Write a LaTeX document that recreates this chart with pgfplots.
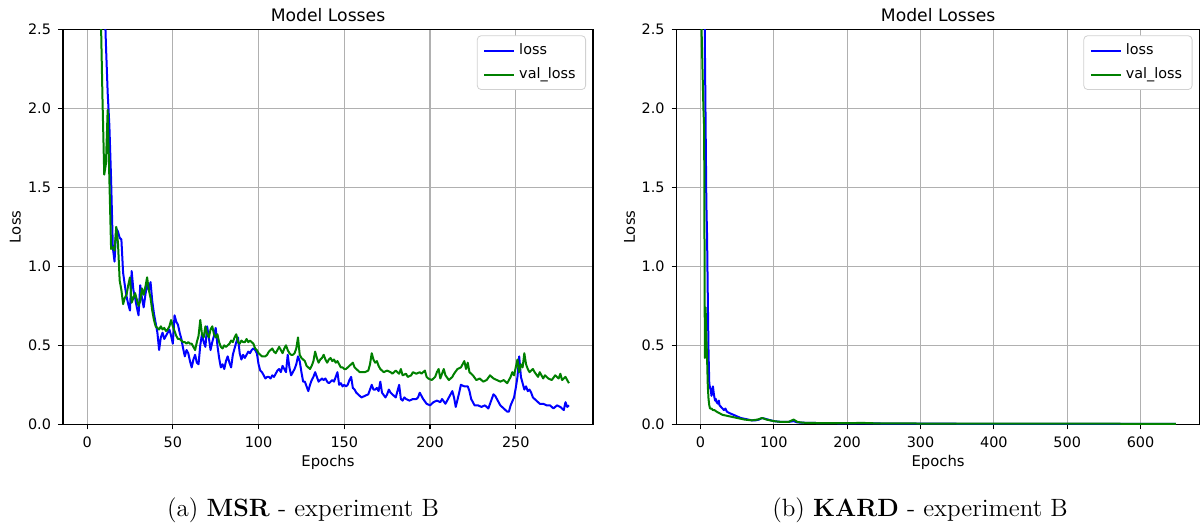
\documentclass[border=0pt]{standalone}
\usepackage{fontspec}
\usepackage{pgfplots}
\pgfplotsset{compat=1.18}
\newfontfamily\dejavu{DejaVu Sans}
\definecolor{mplblue}{RGB}{0,0,255}
\definecolor{mplgreen}{RGB}{0,128,0}
\definecolor{mplgrid}{RGB}{176,176,176}

\pgfplotsset{
  lossaxis/.style={
    scale only axis, height=197.5pt,
    ymin=0, ymax=2.5, ytick={0,0.5,1,1.5,2,2.5},
    axis line style={line width=0.55pt},
    grid=major, major grid style={mplgrid, line width=0.55pt},
    tick align=outside, major tick length=2.5pt,
    tick style={black, line width=0.55pt},
    xtick pos=bottom, ytick pos=left,
    /pgf/number format/assume math mode=true,
    tick label style={font=\dejavu\fontsize{7.2}{8}\selectfont},
    yticklabel style={/pgf/number format/fixed, /pgf/number format/fixed zerofill, /pgf/number format/precision=1},
    label style={font=\dejavu\fontsize{7.4}{8}\selectfont},
    xlabel style={at={(axis description cs:0.5,0)}, anchor=center, yshift=-19pt},
    ylabel style={at={(axis description cs:-0.09,0.5)}, anchor=center},
    xlabel={Epochs}, ylabel={Loss},
    legend style={at={(1,1)}, anchor=north east, xshift=-3.5pt, yshift=-3pt,
      draw=black!18, rounded corners=2pt, font=\dejavu\fontsize{7.2}{8}\selectfont,
      inner xsep=3pt, inner ysep=2pt, row sep=1pt},
    legend cell align=left,
    legend image code/.code={\draw[#1, line width=1pt] (0pt,0pt) -- (15pt,0pt);},
    every axis plot/.append style={line width=1pt, line join=round},
  }
}

\begin{document}
\begin{tikzpicture}
% (a) MSR
\begin{axis}[lossaxis, name=msr, at={(31.5pt,50.35pt)}, anchor=south west,
  width=265pt, xmin=-14.05, xmax=295.05, xtick={0,50,100,150,200,250}]
\addplot[mplblue] coordinates {
(0,9.0)(2,6.5)(4,5.0)(6,4.0)(8,3.2)(10,2.75)(11,2.4)(12,2.1)(13,1.89)(14,1.55)
(15,1.12)(16,1.03)(17,1.24)(18,1.22)(19,1.18)(20,1.17)(21,0.96)(22,0.88)(23,0.81)(24,0.76)
(25,0.72)(26,0.97)(27,0.85)(28,0.80)(29,0.74)(30,0.69)(31,0.88)(32,0.80)(33,0.74)(34,0.82)
(35,0.89)(36,0.85)(37,0.90)(38,0.78)(39,0.70)(40,0.64)(41,0.58)(42,0.47)(43,0.55)(44,0.58)
(45,0.54)(46,0.56)(47,0.58)(48,0.60)(49,0.56)(50,0.51)(51,0.69)(52,0.65)(53,0.63)(54,0.58)
(55,0.54)(56,0.48)(57,0.43)(58,0.47)(59,0.45)(60,0.40)(61,0.36)(62,0.41)(63,0.44)(64,0.39)
(65,0.38)(66,0.50)(67,0.57)(68,0.52)(69,0.49)(70,0.62)(71,0.55)(72,0.47)(73,0.52)(74,0.56)
(75,0.61)(76,0.50)(77,0.42)(78,0.36)(79,0.38)(80,0.35)(81,0.40)(82,0.43)(83,0.39)(84,0.36)
(85,0.44)(86,0.48)(87,0.52)(88,0.55)(89,0.45)(90,0.41)(91,0.44)(92,0.42)(93,0.44)(94,0.46)
(95,0.45)(96,0.47)(97,0.48)(98,0.47)(99,0.45)(100,0.38)(101,0.34)(102,0.33)(103,0.31)(104,0.29)
(105,0.30)(106,0.30)(107,0.29)(108,0.31)(109,0.30)(110,0.32)(111,0.34)(112,0.35)(113,0.33)(114,0.37)
(115,0.35)(116,0.33)(117,0.44)(118,0.36)(119,0.31)(120,0.33)(121,0.35)(122,0.38)(123,0.43)(124,0.40)
(125,0.33)(126,0.27)(127,0.27)(128,0.24)(129,0.21)(130,0.25)(131,0.28)(132,0.30)(133,0.33)(134,0.30)
(135,0.27)(136,0.28)(137,0.29)(138,0.28)(139,0.29)(140,0.27)(141,0.26)(142,0.27)(143,0.28)(144,0.27)
(145,0.30)(146,0.33)(147,0.25)(148,0.26)(149,0.24)(150,0.25)(151,0.24)(152,0.25)(153,0.28)(154,0.30)
(155,0.23)(156,0.22)(157,0.20)(158,0.19)(159,0.18)(160,0.17)(162,0.18)(164,0.19)(165,0.22)(166,0.25)
(167,0.22)(168,0.22)(169,0.23)(170,0.21)(171,0.27)(172,0.20)(174,0.17)(175,0.19)(176,0.22)(177,0.20)
(178,0.19)(179,0.18)(180,0.17)(181,0.21)(182,0.25)(183,0.16)(184,0.15)(185,0.17)(186,0.16)(188,0.15)
(190,0.16)(192,0.16)(193,0.17)(194,0.20)(196,0.16)(198,0.13)(200,0.12)(202,0.14)(204,0.15)(206,0.14)
(207,0.16)(209,0.13)(211,0.17)(213,0.21)(214,0.17)(215,0.11)(217,0.20)(218,0.25)(220,0.24)(222,0.24)
(223,0.21)(224,0.16)(226,0.12)(228,0.12)(230,0.11)(232,0.12)(234,0.10)(235,0.13)(237,0.19)(238,0.18)
(240,0.14)(241,0.12)(243,0.10)(245,0.08)(246,0.08)(247,0.12)(249,0.17)(250,0.23)(251,0.30)(252,0.43)
(253,0.30)(254,0.26)(255,0.22)(256,0.24)(257,0.21)(258,0.22)(259,0.20)(260,0.17)(262,0.15)(264,0.13)
(266,0.13)(268,0.12)(270,0.12)(272,0.10)(274,0.12)(276,0.11)(278,0.09)(279,0.14)(280,0.11)(281,0.12)
};
\addlegendentry{loss}
\addplot[mplgreen] coordinates {
(0,8.5)(2,6.0)(4,4.6)(6,3.6)(8,2.6)(9,2.05)(10,1.58)(11,1.65)(12,1.99)(13,1.55)
(14,1.11)(15,1.12)(16,1.10)(17,1.25)(18,1.15)(19,0.91)(20,0.85)(21,0.76)(22,0.80)(23,0.82)
(24,0.88)(25,0.93)(26,0.77)(27,0.80)(28,0.83)(29,0.79)(30,0.75)(31,0.78)(32,0.86)(33,0.82)
(34,0.87)(35,0.93)(36,0.85)(37,0.80)(38,0.72)(39,0.66)(40,0.62)(41,0.61)(42,0.60)(43,0.62)
(44,0.60)(45,0.61)(46,0.59)(47,0.60)(48,0.62)(49,0.66)(50,0.62)(51,0.59)(52,0.56)(53,0.54)
(54,0.54)(55,0.53)(56,0.52)(57,0.52)(58,0.51)(59,0.52)(60,0.51)(61,0.51)(62,0.49)(63,0.47)
(64,0.52)(65,0.56)(66,0.66)(67,0.57)(68,0.55)(69,0.62)(70,0.57)(71,0.55)(72,0.60)(73,0.62)
(74,0.57)(75,0.55)(76,0.57)(77,0.52)(78,0.49)(79,0.48)(80,0.50)(81,0.49)(82,0.50)(83,0.51)
(84,0.53)(85,0.52)(86,0.55)(87,0.57)(88,0.52)(89,0.51)(90,0.53)(91,0.52)(92,0.52)(93,0.54)
(94,0.52)(95,0.53)(96,0.52)(97,0.51)(98,0.48)(99,0.47)(100,0.45)(101,0.44)(102,0.43)(103,0.43)
(104,0.43)(105,0.44)(106,0.46)(107,0.47)(108,0.48)(109,0.46)(110,0.45)(111,0.47)(112,0.49)(113,0.47)
(114,0.45)(115,0.48)(116,0.50)(117,0.47)(118,0.45)(119,0.44)(120,0.44)(121,0.45)(122,0.48)(123,0.55)
(124,0.44)(125,0.42)(126,0.41)(127,0.40)(128,0.37)(129,0.36)(130,0.35)(131,0.37)(132,0.40)(133,0.46)
(134,0.42)(135,0.39)(136,0.41)(137,0.42)(138,0.44)(139,0.41)(140,0.39)(141,0.41)(142,0.42)(143,0.40)
(144,0.41)(145,0.39)(146,0.40)(147,0.38)(148,0.36)(149,0.36)(150,0.35)(151,0.35)(152,0.36)(153,0.37)
(154,0.38)(155,0.39)(156,0.36)(157,0.35)(158,0.34)(159,0.33)(160,0.33)(162,0.33)(164,0.34)(165,0.38)
(166,0.45)(167,0.41)(168,0.39)(169,0.40)(170,0.37)(171,0.35)(172,0.34)(173,0.33)(175,0.34)(177,0.33)
(178,0.32)(180,0.34)(181,0.33)(182,0.32)(183,0.35)(184,0.31)(186,0.32)(187,0.30)(189,0.31)(190,0.33)
(192,0.32)(194,0.33)(195,0.32)(197,0.34)(198,0.30)(199,0.29)(201,0.28)(203,0.30)(204,0.33)(205,0.35)
(206,0.29)(208,0.35)(209,0.31)(211,0.28)(213,0.30)(214,0.32)(216,0.35)(218,0.36)(219,0.38)(220,0.40)
(221,0.35)(222,0.39)(223,0.33)(225,0.31)(227,0.28)(229,0.29)(231,0.27)(233,0.28)(235,0.31)(237,0.29)
(239,0.28)(241,0.27)(243,0.28)(245,0.26)(247,0.30)(248,0.33)(249,0.31)(250,0.36)(251,0.41)(252,0.33)
(253,0.38)(254,0.36)(255,0.45)(256,0.38)(257,0.35)(258,0.33)(260,0.35)(261,0.33)(263,0.30)(264,0.33)
(266,0.29)(267,0.31)(269,0.29)(271,0.28)(273,0.31)(275,0.29)(276,0.32)(277,0.28)(279,0.30)(280,0.28)
(281,0.26)
};
\addlegendentry{val\_loss}
\end{axis}
% (b) KARD
\begin{axis}[lossaxis, name=kard, at={(338.35pt,50.35pt)}, anchor=south west,
  width=261.4pt, xmin=-32.4, xmax=680.4, xtick={0,100,200,300,400,500,600}]
\addplot[mplblue] coordinates {
(0,9.0)(3,5.0)(5,3.0)(6,2.4)(7,1.9)(8,1.4)(9,1.19)(10,0.8)(11,0.45)(12,0.26)
(13,0.23)(14,0.22)(15,0.18)(16,0.22)(17,0.24)(18,0.20)(19,0.17)(20,0.15)(21,0.16)(22,0.14)
(24,0.13)(25,0.15)(26,0.12)(28,0.11)(30,0.10)(32,0.09)(34,0.10)(36,0.08)(40,0.07)(45,0.06)
(50,0.05)(55,0.04)(60,0.035)(65,0.03)(70,0.025)(75,0.025)(80,0.03)(84,0.04)(88,0.035)(92,0.03)
(96,0.025)(100,0.02)(110,0.015)(120,0.015)(127,0.02)(132,0.012)(140,0.01)(160,0.008)(200,0.006)(250,0.005)
(300,0.004)(400,0.003)(500,0.003)(648,0.002)
};
\addlegendentry{loss}
\addplot[mplgreen] coordinates {
(0,3.2)(1,2.6)(2,2.4)(3,2.2)(4,2.0)(5,1.88)(6,0.42)(7,0.74)(8,0.55)(9,0.42)
(10,0.24)(11,0.16)(12,0.12)(13,0.10)(15,0.10)(17,0.09)(19,0.09)(22,0.08)(26,0.07)(30,0.06)
(35,0.055)(40,0.05)(50,0.04)(60,0.03)(70,0.025)(78,0.03)(84,0.04)(90,0.03)(100,0.02)(110,0.015)
(120,0.015)(127,0.03)(132,0.015)(140,0.01)(160,0.008)(200,0.007)(220,0.009)(240,0.006)(300,0.005)(400,0.004)
(500,0.004)(648,0.003)
};
\addlegendentry{val\_loss}
\end{axis}
\node[font=\dejavu\fontsize{8.6}{10}\selectfont, anchor=base] at ([yshift=4pt]msr.north) {Model Losses};
\node[font=\dejavu\fontsize{8.6}{10}\selectfont, anchor=base] at ([yshift=4pt]kard.north) {Model Losses};
\node[font=\fontsize{12.5}{14}\selectfont] at (151.5pt,7.5pt) {(a) \textbf{MSR} - experiment B};
\node[font=\fontsize{12.5}{14}\selectfont] at (460pt,7.5pt) {(b) \textbf{KARD} - experiment B};
\pgfresetboundingbox
\path[use as bounding box] (0,0) rectangle (601pt,262.5pt);
\end{tikzpicture}
\end{document}
